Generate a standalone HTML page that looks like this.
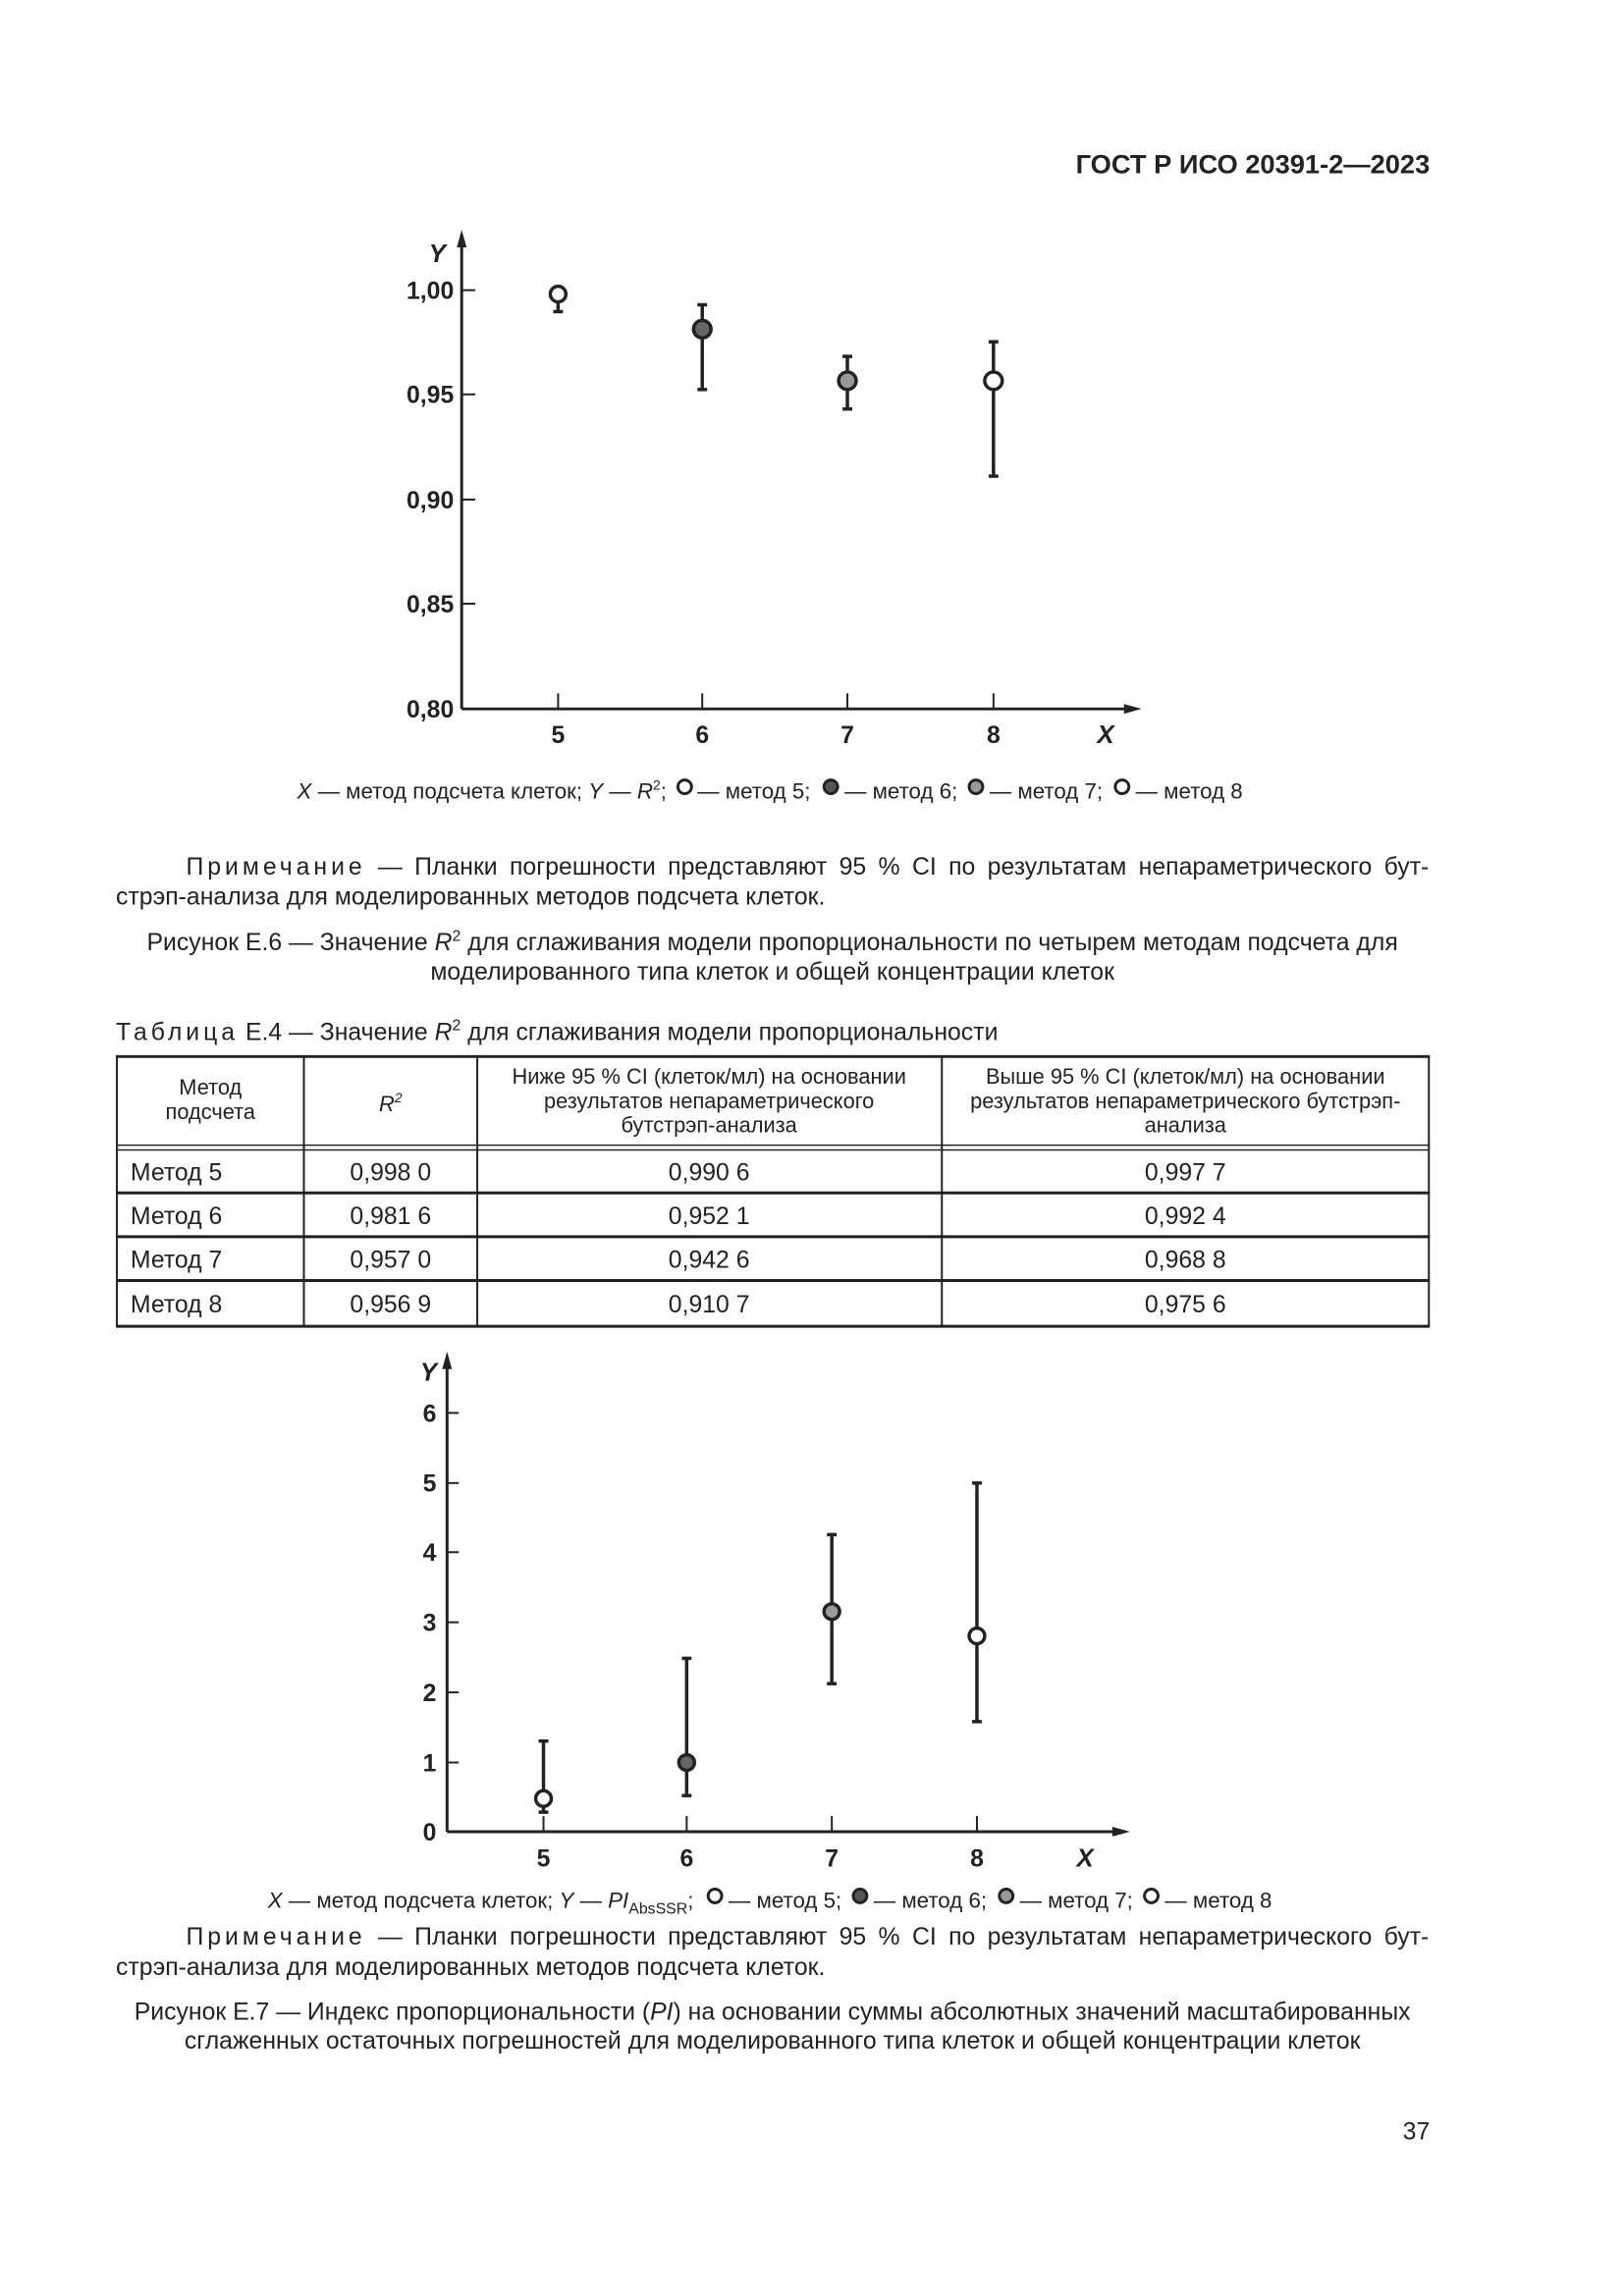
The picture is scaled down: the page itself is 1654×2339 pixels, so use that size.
<!DOCTYPE html>
<html><head><meta charset="utf-8"><style>
html,body{margin:0;padding:0;background:#fff}
svg{display:block}
text{font-family:"Liberation Sans",Arial,sans-serif;fill:#222}
.b{font-weight:bold}
.t{font-size:25px}
.s{font-size:22.5px}
</style></head><body>
<svg width="1654" height="2339" viewBox="0 0 1654 2339" xmlns="http://www.w3.org/2000/svg">
<g transform="scale(0.992)">
<text x="1468" y="178" text-anchor="end" class="b" font-size="27.5">ГОСТ Р ИСО 20391-2—2023</text>

<!-- Chart 1 -->
<g stroke="#222" stroke-width="3" fill="none">
<line x1="474" y1="728" x2="474" y2="248"/>
<line x1="474" y1="728" x2="1162" y2="728"/>
</g>
<polygon points="474,236 469,254 479,254" fill="#222"/>
<polygon points="1172,728 1154,723 1154,733" fill="#222"/>
<g stroke="#222" stroke-width="2">
<line x1="474" y1="298" x2="488" y2="298"/><line x1="474" y1="405" x2="488" y2="405"/>
<line x1="474" y1="513" x2="488" y2="513"/><line x1="474" y1="620" x2="488" y2="620"/>
<line x1="573" y1="728" x2="573" y2="712"/><line x1="721" y1="728" x2="721" y2="712"/>
<line x1="870" y1="728" x2="870" y2="712"/><line x1="1020" y1="728" x2="1020" y2="712"/>
</g>
<g class="b" font-size="25" text-anchor="end">
<text x="466" y="307">1,00</text><text x="466" y="414">0,95</text><text x="466" y="522">0,90</text>
<text x="466" y="629">0,85</text><text x="466" y="737">0,80</text>
</g>
<g class="b" font-size="25" text-anchor="middle">
<text x="573" y="763">5</text><text x="721" y="763">6</text><text x="870" y="763">7</text><text x="1020" y="763">8</text>
</g>
<text x="1135" y="763" class="b" font-size="26" font-style="italic" text-anchor="middle">X</text>
<text x="449" y="269" class="b" font-size="26" font-style="italic" text-anchor="middle">Y</text>
<g stroke="#222" stroke-width="3.5">
<line x1="573" y1="308" x2="573" y2="320"/><line x1="568" y1="320" x2="578" y2="320"/>
<line x1="721" y1="313" x2="721" y2="400"/><line x1="716" y1="313" x2="726" y2="313"/><line x1="716" y1="400" x2="726" y2="400"/>
<line x1="870" y1="366" x2="870" y2="420"/><line x1="865" y1="366" x2="875" y2="366"/><line x1="865" y1="420" x2="875" y2="420"/>
<line x1="1020" y1="351" x2="1020" y2="489"/><line x1="1015" y1="351" x2="1025" y2="351"/><line x1="1015" y1="489" x2="1025" y2="489"/>
</g>
<g stroke="#222" stroke-width="3.5">
<circle cx="573" cy="302" r="8" fill="#fff"/>
<circle cx="721" cy="338" r="9" fill="#666"/>
<circle cx="870" cy="391" r="9" fill="#999"/>
<circle cx="1020" cy="391" r="9" fill="#fff"/>
</g>
<text y="820" class="s"><tspan x="305" font-style="italic">X</tspan> — метод подсчета клеток; <tspan font-style="italic">Y</tspan> — <tspan font-style="italic">R</tspan><tspan font-size="14" dy="-9">2</tspan><tspan dy="9">;</tspan></text>
<text y="820" class="s"><tspan x="716">— метод 5;</tspan><tspan x="867">— метод 6;</tspan><tspan x="1016">— метод 7;</tspan><tspan x="1166">— метод 8</tspan></text>
<g stroke="#222" stroke-width="3">
<circle cx="703" cy="808" r="7" fill="#fff"/><circle cx="853" cy="808" r="7" fill="#555"/>
<circle cx="1002" cy="808" r="7" fill="#999"/><circle cx="1152" cy="808" r="7" fill="#fff"/>
</g>

<!-- Note 1 -->
<text x="191" y="898" class="t" word-spacing="5.5"><tspan letter-spacing="4">Примечание</tspan> — Планки погрешности представляют 95 % CI по результатам непараметрического бут-</text>
<text x="119" y="929" class="t">стрэп-анализа для моделированных методов подсчета клеток.</text>
<text x="793" y="976" class="t" text-anchor="middle">Рисунок E.6 — Значение <tspan font-style="italic">R</tspan><tspan font-size="16" dy="-10">2</tspan><tspan dy="10"> для сглаживания модели пропорциональности по четырем методам подсчета для</tspan></text>
<text x="793" y="1006" class="t" text-anchor="middle">моделированного типа клеток и общей концентрации клеток</text>

<!-- Table -->
<text x="119" y="1068" class="t"><tspan letter-spacing="4">Таблица</tspan> E.4 — Значение <tspan font-style="italic">R</tspan><tspan font-size="16" dy="-10">2</tspan><tspan dy="10"> для сглаживания модели пропорциональности</tspan></text>
<g stroke="#222" fill="none">
<line x1="119" y1="1085" x2="1468" y2="1085" stroke-width="3"/>
<line x1="119" y1="1176" x2="1468" y2="1176" stroke-width="1.5"/>
<line x1="119" y1="1181" x2="1468" y2="1181" stroke-width="1.5"/>
<line x1="119" y1="1225" x2="1468" y2="1225" stroke-width="3"/>
<line x1="119" y1="1270" x2="1468" y2="1270" stroke-width="3"/>
<line x1="119" y1="1315" x2="1468" y2="1315" stroke-width="3"/>
<line x1="119" y1="1362" x2="1468" y2="1362" stroke-width="3"/>
<line x1="120" y1="1085" x2="120" y2="1362" stroke-width="2"/>
<line x1="312" y1="1085" x2="312" y2="1362" stroke-width="2"/>
<line x1="490" y1="1085" x2="490" y2="1362" stroke-width="2"/>
<line x1="967" y1="1085" x2="967" y2="1362" stroke-width="2"/>
<line x1="1467" y1="1085" x2="1467" y2="1362" stroke-width="2"/>
</g>
<g font-size="22" text-anchor="middle">
<text x="216" y="1124">Метод</text><text x="216" y="1149">подсчета</text>
<text x="401" y="1141" font-style="italic">R<tspan font-size="14" dy="-9">2</tspan></text>
<text x="728" y="1113">Ниже 95 % CI (клеток/мл) на основании</text>
<text x="728" y="1138">результатов непараметрического</text>
<text x="728" y="1163">бутстрэп-анализа</text>
<text x="1217" y="1113">Выше 95 % CI (клеток/мл) на основании</text>
<text x="1217" y="1138">результатов непараметрического бутстрэп-</text>
<text x="1217" y="1163">анализа</text>
</g>
<g class="t">
<text x="134" y="1212">Метод 5</text><text x="134" y="1257">Метод 6</text><text x="134" y="1302">Метод 7</text><text x="134" y="1348">Метод 8</text>
</g>
<g class="t" text-anchor="middle">
<text x="401" y="1212">0,998 0</text><text x="728" y="1212">0,990 6</text><text x="1217" y="1212">0,997 7</text>
<text x="401" y="1257">0,981 6</text><text x="728" y="1257">0,952 1</text><text x="1217" y="1257">0,992 4</text>
<text x="401" y="1302">0,957 0</text><text x="728" y="1302">0,942 6</text><text x="1217" y="1302">0,968 8</text>
<text x="401" y="1348">0,956 9</text><text x="728" y="1348">0,910 7</text><text x="1217" y="1348">0,975 6</text>
</g>

<!-- Chart 2 -->
<g stroke="#222" stroke-width="3" fill="none">
<line x1="459" y1="1881" x2="459" y2="1400"/>
<line x1="459" y1="1881" x2="1150" y2="1881"/>
</g>
<polygon points="459,1388 454,1406 464,1406" fill="#222"/>
<polygon points="1160,1881 1142,1876 1142,1886" fill="#222"/>
<g stroke="#222" stroke-width="2">
<line x1="459" y1="1451" x2="471" y2="1451"/><line x1="459" y1="1523" x2="471" y2="1523"/>
<line x1="459" y1="1594" x2="471" y2="1594"/><line x1="459" y1="1666" x2="471" y2="1666"/>
<line x1="459" y1="1738" x2="471" y2="1738"/><line x1="459" y1="1810" x2="471" y2="1810"/>
<line x1="558" y1="1881" x2="558" y2="1865"/><line x1="705" y1="1881" x2="705" y2="1865"/>
<line x1="854" y1="1881" x2="854" y2="1865"/><line x1="1003" y1="1881" x2="1003" y2="1865"/>
</g>
<g class="b" font-size="25" text-anchor="end">
<text x="448" y="1460">6</text><text x="448" y="1532">5</text><text x="448" y="1603">4</text>
<text x="448" y="1675">3</text><text x="448" y="1747">2</text><text x="448" y="1819">1</text><text x="448" y="1890">0</text>
</g>
<g class="b" font-size="25" text-anchor="middle">
<text x="558" y="1917">5</text><text x="705" y="1917">6</text><text x="854" y="1917">7</text><text x="1003" y="1917">8</text>
</g>
<text x="1114" y="1917" class="b" font-size="26" font-style="italic" text-anchor="middle">X</text>
<text x="440" y="1418" class="b" font-size="26" font-style="italic" text-anchor="middle">Y</text>
<g stroke="#222" stroke-width="3.5">
<line x1="558" y1="1788" x2="558" y2="1861"/><line x1="553" y1="1788" x2="563" y2="1788"/><line x1="553" y1="1861" x2="563" y2="1861"/>
<line x1="705" y1="1703" x2="705" y2="1844"/><line x1="700" y1="1703" x2="710" y2="1703"/><line x1="700" y1="1844" x2="710" y2="1844"/>
<line x1="854" y1="1576" x2="854" y2="1729"/><line x1="849" y1="1576" x2="859" y2="1576"/><line x1="849" y1="1729" x2="859" y2="1729"/>
<line x1="1003" y1="1523" x2="1003" y2="1768"/><line x1="998" y1="1523" x2="1008" y2="1523"/><line x1="998" y1="1768" x2="1008" y2="1768"/>
</g>
<g stroke="#222" stroke-width="3.5">
<circle cx="558" cy="1847" r="8" fill="#fff"/>
<circle cx="705" cy="1810" r="8" fill="#666"/>
<circle cx="854" cy="1655" r="8" fill="#999"/>
<circle cx="1003" cy="1680" r="8" fill="#fff"/>
</g>
<text y="1959" class="s"><tspan x="275" font-style="italic">X</tspan> — метод подсчета клеток; <tspan font-style="italic">Y</tspan> — <tspan font-style="italic">PI</tspan><tspan font-size="16" dy="6">AbsSSR</tspan><tspan dy="-6">;</tspan></text>
<text y="1959" class="s"><tspan x="748">— метод 5;</tspan><tspan x="897">— метод 6;</tspan><tspan x="1047">— метод 7;</tspan><tspan x="1196">— метод 8</tspan></text>
<g stroke="#222" stroke-width="3">
<circle cx="734" cy="1947" r="7" fill="#fff"/><circle cx="883" cy="1947" r="7" fill="#555"/>
<circle cx="1033" cy="1947" r="7" fill="#999"/><circle cx="1182" cy="1947" r="7" fill="#fff"/>
</g>

<!-- Note 2 -->
<text x="191" y="1997" class="t" word-spacing="5.5"><tspan letter-spacing="4">Примечание</tspan> — Планки погрешности представляют 95 % CI по результатам непараметрического бут-</text>
<text x="119" y="2028" class="t">стрэп-анализа для моделированных методов подсчета клеток.</text>
<text x="793" y="2074" class="t" text-anchor="middle">Рисунок E.7 — Индекс пропорциональности (<tspan font-style="italic">PI</tspan>) на основании суммы абсолютных значений масштабированных</text>
<text x="793" y="2104" class="t" text-anchor="middle">сглаженных остаточных погрешностей для моделированного типа клеток и общей концентрации клеток</text>
<text x="1468" y="2197" class="t" text-anchor="end">37</text>
</g>
</svg>
</body></html>
